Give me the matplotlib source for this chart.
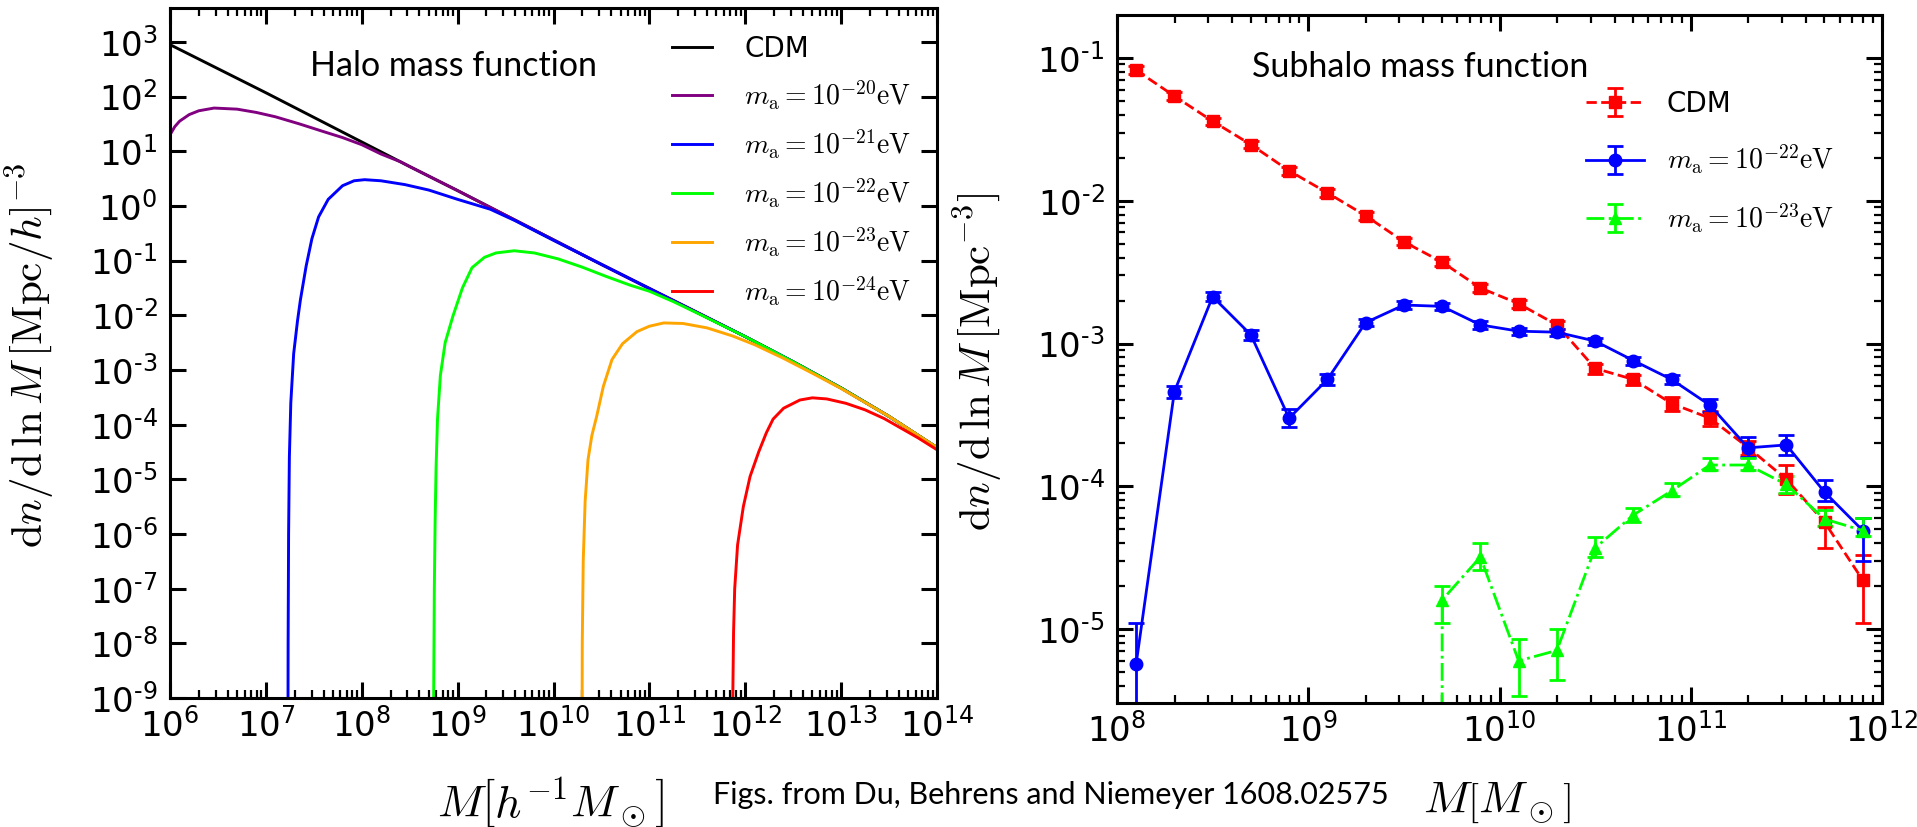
import numpy as np
import matplotlib
matplotlib.use("Agg")
import matplotlib.pyplot as plt
from matplotlib.font_manager import FontProperties
from matplotlib.ticker import LogLocator, NullFormatter, NullLocator

# ---------------- Left panel: halo mass function (log10 M, log10 dn/dlnM) ----------------
cdm_logM = [6.0, 6.5, 7.0, 7.5, 8.0, 8.5, 9.0, 9.5, 10.0, 10.5, 11.0, 11.5, 12.0, 12.5, 13.0, 13.5, 14.0]
cdm_logN = [2.95, 2.51, 2.07, 1.62, 1.17, 0.72, 0.28, -0.17, -0.62, -1.07, -1.51, -1.95, -2.39, -2.85, -3.33, -3.85, -4.42]

m20_logM = [6.0, 6.05, 6.1, 6.2, 6.3, 6.46, 6.7, 6.9, 7.1, 7.35, 7.6, 7.8, 8.0, 8.2, 8.4]
m20_logN = [1.30, 1.45, 1.55, 1.67, 1.74, 1.79, 1.77, 1.71, 1.63, 1.50, 1.36, 1.25, 1.12, 0.95, 0.81]

m21_logM = [7.228, 7.232, 7.237, 7.245, 7.26, 7.29, 7.33, 7.36, 7.42, 7.48, 7.55, 7.65, 7.8, 7.92, 8.03,
            8.2, 8.45, 8.7, 9.0, 9.34, 9.6, 10.0]
m21_logN = [-12, -8, -6, -4.6, -3.6, -2.7, -2.1, -1.72, -1.1, -0.6, -0.2, 0.12, 0.37, 0.46, 0.48,
            0.46, 0.39, 0.29, 0.12, -0.06, -0.27, -0.63]

m22_logM = [8.745, 8.75, 8.757, 8.765, 8.775, 8.79, 8.82, 8.87, 8.95, 9.05, 9.15, 9.28, 9.40, 9.59,
            9.8, 10.05, 10.3, 10.55, 10.8, 11.0, 11.25, 11.5]
m22_logN = [-12, -9, -7, -5.8, -4.8, -3.9, -3.1, -2.5, -2.02, -1.5, -1.13, -0.94, -0.86, -0.82,
            -0.86, -0.97, -1.12, -1.29, -1.45, -1.56, -1.75, -1.96]

m23_logM = [10.295, 10.30, 10.31, 10.33, 10.36, 10.40, 10.45, 10.52, 10.61, 10.72, 10.87, 11.0, 11.15,
            11.35, 11.6, 11.87, 12.1, 12.39, 12.7, 13.0]
m23_logN = [-12, -8, -6.5, -5.4, -4.64, -4.2, -3.85, -3.3, -2.81, -2.52, -2.30, -2.2, -2.14,
            -2.15, -2.23, -2.38, -2.54, -2.78, -3.06, -3.34]

m24_logM = [11.865, 11.87, 11.878, 11.89, 11.92, 11.98, 12.05, 12.14, 12.22, 12.29, 12.4, 12.57, 12.70,
            12.85, 13.05, 13.25, 13.45, 13.61, 13.8, 14.0]
m24_logN = [-12, -9, -7.8, -7.0, -6.2, -5.5, -4.95, -4.5, -4.15, -3.9, -3.7, -3.55, -3.51,
            -3.53, -3.61, -3.73, -3.89, -4.05, -4.24, -4.46]

left_labels = ["CDM", r"$m_{\rm a}=10^{-20}{\rm eV}$", r"$m_{\rm a}=10^{-21}{\rm eV}$",
               r"$m_{\rm a}=10^{-22}{\rm eV}$", r"$m_{\rm a}=10^{-23}{\rm eV}$", r"$m_{\rm a}=10^{-24}{\rm eV}$"]
left_colors = ["black", "purple", "blue", "lime", "orange", "red"]
left_xexp = [6, 7, 8, 9, 10, 11, 12, 13, 14]
left_yexp = [3, 2, 1, 0, -1, -2, -3, -4, -5, -6, -7, -8, -9]

# ---------------- Right panel: subhalo mass function ----------------
sub_M = [1.259e8, 1.995e8, 3.162e8, 5.012e8, 7.943e8, 1.259e9, 1.995e9, 3.162e9, 5.012e9, 7.943e9,
         1.259e10, 1.995e10, 3.162e10, 5.012e10, 7.943e10, 1.259e11, 1.995e11, 3.162e11, 5.012e11, 7.943e11]

cdm_sub = [0.082, 0.054, 0.036, 0.0247, 0.0162, 0.01135, 0.00785, 0.00516, 0.00371, 0.00245,
           0.0019, 0.00135, 6.7e-4, 5.6e-4, 3.8e-4, 3.0e-4, 1.87e-4, 1.12e-4, 5.6e-5, 2.2e-5]
cdm_sub_lo = [0.005, 0.0032, 0.0022, 0.0015, 0.001, 0.0007, 0.0005, 0.0003, 0.00022, 0.00015,
              0.00012, 0.00009, 5.4e-5, 4.5e-5, 4.5e-5, 3.6e-5, 2.2e-5, 2.4e-5, 1.9e-5, 1.1e-5]
cdm_sub_hi = [0.005, 0.0032, 0.0022, 0.0015, 0.001, 0.0007, 0.0005, 0.0003, 0.00022, 0.00015,
              0.00012, 0.00009, 5.4e-5, 4.5e-5, 4.5e-5, 3.6e-5, 2.2e-5, 2.8e-5, 1.6e-5, 1.1e-5]

m22_sub = [5.7e-6, 4.6e-4, 2.13e-3, 1.15e-3, 3.0e-4, 5.6e-4, 1.4e-3, 1.86e-3, 1.82e-3, 1.35e-3,
           1.22e-3, 1.2e-3, 1.04e-3, 7.6e-4, 5.6e-4, 3.7e-4, 1.86e-4, 1.95e-4, 9.1e-5, 4.9e-5]
m22_sub_lo = [5.7e-6, 4.5e-5, 1.5e-4, 9e-5, 4e-5, 5e-5, 8e-5, 1.1e-4, 1.1e-4, 8e-5,
              7e-5, 7e-5, 6e-5, 5e-5, 4e-5, 3.7e-5, 2.6e-5, 3e-5, 1.2e-5, 1.9e-5]
m22_sub_hi = [5.3e-6, 4.5e-5, 1.5e-4, 9e-5, 5e-5, 5e-5, 8e-5, 1.1e-4, 1.1e-4, 8e-5,
              7e-5, 7e-5, 6e-5, 5e-5, 4e-5, 3.7e-5, 3.4e-5, 3.5e-5, 2e-5, 1.1e-5]

m23_sub_M = [3.162e9, 5.012e9, 7.943e9, 1.259e10, 1.995e10, 3.162e10, 5.012e10, 7.943e10,
             1.259e11, 1.995e11, 3.162e11, 5.012e11, 7.943e11]
m23_sub = [0.0, 1.6e-5, 3.2e-5, 6.0e-6, 7.1e-6, 3.7e-5, 6.3e-5, 9.3e-5, 1.41e-4, 1.41e-4, 1.03e-4, 5.9e-5, 4.9e-5]
m23_sub_lo = [0.0, 5e-6, 6e-6, 2.6e-6, 2.7e-6, 5e-6, 7e-6, 8e-6, 1.1e-5, 1.1e-5, 1.3e-5, 6e-6, 4e-6]
m23_sub_hi = [0.0, 4e-6, 8e-6, 2.5e-6, 2.9e-6, 7e-6, 7e-6, 1.2e-5, 1.6e-5, 1.6e-5, 1.5e-5, 9e-6, 1.1e-5]

right_labels = ["CDM", r"$m_{\rm a}=10^{-22}{\rm eV}$", r"$m_{\rm a}=10^{-23}{\rm eV}$"]
right_xexp = [8, 9, 10, 11, 12]
right_yexp = [-1, -2, -3, -4, -5]


def tick_label(e):
    if e < 0:
        return "$10^{\u2010" + str(-e) + "}$"
    return "$10^{" + str(e) + "}$"


W, H = 1917, 827
fig = plt.figure(figsize=(W / 100, H / 100), dpi=100)
axL = fig.add_axes([170 / W, 1 - 698 / H, (937 - 170) / W, (698 - 8) / H])
axR = fig.add_axes([1117 / W, 1 - 703 / H, (1882 - 1117) / W, (703 - 15) / H])

# ---- left panel ----
def tail(logM, logN):
    # continue a suppressed curve along the read CDM points beyond its last point
    xs = list(logM) + [m for m in cdm_logM if m > logM[-1]]
    ys = list(logN) + [n for m, n in zip(cdm_logM, cdm_logN) if m > logM[-1]]
    return 10.0 ** np.array(xs), 10.0 ** np.array(ys)

curves = [(10.0 ** np.array(cdm_logM), 10.0 ** np.array(cdm_logN))] + [tail(a, b) for a, b in
          [(m20_logM, m20_logN), (m21_logM, m21_logN), (m22_logM, m22_logN),
           (m23_logM, m23_logN), (m24_logM, m24_logN)]]
for (x, y), lab, col in zip(curves, left_labels, left_colors):
    axL.plot(x, y, color=col, lw=2.1, label=lab)

axL.set_xscale("log")
axL.set_yscale("log")
axL.set_xlim(1e6, 1e14)
axL.set_ylim(1e-9, 10 ** 3.62)
axL.set_xticks([10.0 ** e for e in left_xexp])
axL.set_xticklabels([tick_label(e) for e in left_xexp])
axL.set_yticks([10.0 ** e for e in left_yexp])
axL.set_yticklabels([tick_label(e) for e in left_yexp])
axL.xaxis.set_minor_locator(LogLocator(base=10, subs=np.arange(2, 10), numticks=100))
axL.xaxis.set_minor_formatter(NullFormatter())
axL.yaxis.set_minor_locator(NullLocator())

# ---- right panel ----
common = dict(capsize=5.5, elinewidth=2, capthick=2, lw=2, ms=9)
axR.errorbar(sub_M, cdm_sub, yerr=[cdm_sub_lo, cdm_sub_hi], color="red", ls="--", marker="s",
             label=right_labels[0], **common)
axR.errorbar(sub_M, m22_sub, yerr=[m22_sub_lo, m22_sub_hi], color="blue", ls="-", marker="o",
             label=right_labels[1], **common)
axR.errorbar(m23_sub_M, m23_sub, yerr=[m23_sub_lo, m23_sub_hi], color="lime", ls="-.", marker="^",
             label=right_labels[2], **common)
axR.set_xscale("log")
axR.set_yscale("log")
axR.set_xlim(1e8, 1e12)
axR.set_ylim(10 ** -5.517, 10 ** -0.70)
axR.set_xticks([10.0 ** e for e in right_xexp])
axR.set_xticklabels([tick_label(e) for e in right_xexp])
axR.set_yticks([10.0 ** e for e in right_yexp])
axR.set_yticklabels([tick_label(e) for e in right_yexp])
axR.xaxis.set_minor_locator(LogLocator(base=10, subs=np.arange(2, 10), numticks=100))
axR.yaxis.set_minor_locator(LogLocator(base=10, subs=np.arange(2, 10), numticks=100))
axR.xaxis.set_minor_formatter(NullFormatter())
axR.yaxis.set_minor_formatter(NullFormatter())

for ax in (axL, axR):
    for s in ax.spines.values():
        s.set_linewidth(2.2)
    ax.tick_params(which="both", direction="in", top=True, right=True)
    ax.tick_params(which="major", length=11.5, width=2.2, labelsize=24.5)
    ax.tick_params(which="minor", length=6, width=1.6)
    ax.tick_params(axis="x", which="major", pad=7)
    ax.tick_params(axis="y", which="major", pad=9)

# legends
propL = FontProperties(family="DejaVu Sans", size=20, math_fontfamily="cm")
legL = axL.legend(loc="upper left", bbox_to_anchor=(672 / W, 1 - 35 / H), bbox_transform=fig.transFigure,
                  frameon=False, prop=propL, handlelength=1.45, handletextpad=1.15, labelspacing=0.56,
                  borderpad=0, borderaxespad=0)
legR = axR.legend(loc="upper left", bbox_to_anchor=(1586 / W, 1 - 90 / H), bbox_transform=fig.transFigure,
                  frameon=False, prop=propL, handlelength=2.1, handletextpad=0.8, labelspacing=0.9,
                  borderpad=0, borderaxespad=0)

# texts
fig.text(453 / W, 1 - 66 / H, "Halo mass function", ha="center", va="center", family="Lato", fontsize=24.5)
fig.text(1420 / W, 1 - 67 / H, "Subhalo mass function", ha="center", va="center", family="Lato", fontsize=24.5)
fig.text(1051 / W, 1 - 795 / H, "Figs. from Du, Behrens and Niemeyer 1608.02575", ha="center", va="center",
         family="Lato", fontsize=22)

fig.text(30 / W, 1 - 355 / H, r"$\mathrm{d}n/\mathrm{d}\,\ln M\,[\mathrm{Mpc}/h]^{-3}$", rotation=90,
         ha="center", va="center", fontsize=31, math_fontfamily="cm")
fig.text(978 / W, 1 - 362 / H, r"$\mathrm{d}n/\mathrm{d}\,\ln M\,[\mathrm{Mpc}^{-3}]$", rotation=90,
         ha="center", va="center", fontsize=31, math_fontfamily="cm")
fig.text(550 / W, 1 - 803 / H, r"$M\left[h^{-1}M_\odot\right]$", ha="center", va="center",
         fontsize=33, math_fontfamily="cm")
fig.text(1497 / W, 1 - 803 / H, r"$M\left[M_\odot\right]$", ha="center", va="center",
         fontsize=33, math_fontfamily="cm")

fig.savefig("out.png", dpi=100)
